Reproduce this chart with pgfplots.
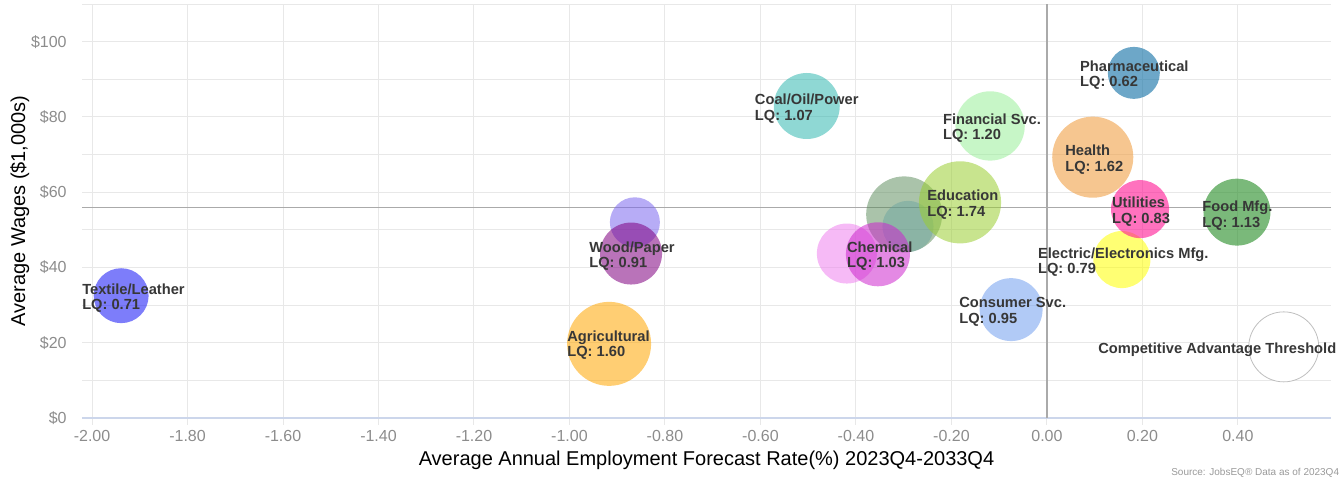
\documentclass[border=0pt]{standalone}
\usepackage{fontspec}
\setmainfont{Liberation Sans}
\usepackage{xcolor}
\usepackage{pgfplots}
\pgfplotsset{compat=1.18}
\definecolor{gridcol}{RGB}{232,232,232}
\definecolor{axiscol}{RGB}{204,214,235}
\definecolor{tickcol}{RGB}{140,140,140}
\definecolor{refcol}{RGB}{170,170,170}
\definecolor{labcol}{RGB}{55,55,55}
\definecolor{cTextile}{RGB}{10,10,245}
\definecolor{cAgri}{RGB}{255,165,0}
\definecolor{cWood}{RGB}{128,0,128}
\definecolor{cViolet}{RGB}{123,104,238}
\definecolor{cCoal}{RGB}{32,178,170}
\definecolor{cPink}{RGB}{238,130,238}
\definecolor{cChem}{RGB}{205,40,205}
\definecolor{cGrey}{RGB}{85,135,85}
\definecolor{cTeal}{RGB}{95,158,160}
\definecolor{cEdu}{RGB}{154,205,50}
\definecolor{cFin}{RGB}{144,238,144}
\definecolor{cCons}{RGB}{100,149,237}
\definecolor{cPharma}{RGB}{30,120,170}
\definecolor{cHealth}{RGB}{240,160,70}
\definecolor{cUtil}{RGB}{255,20,147}
\definecolor{cElec}{RGB}{255,255,0}
\definecolor{cFood}{RGB}{34,139,34}

% one bubble: colour, opacity, radius (pt), x, y
\newcommand{\bubble}[5]{\addplot[only marks, mark=*, mark size=#3pt,
  mark options={draw=#1, draw opacity=0, line width=0pt, fill=#1, fill opacity=#2}] coordinates {(#4,#5)};}
\tikzset{blab/.style={anchor=west, inner sep=0pt, align=left, text=labcol, yshift=-1.8pt,
  font=\bfseries\fontsize{11}{11.6}\selectfont}}

\begin{document}
\begin{tikzpicture}
\path[use as bounding box] (-61.5pt,-43.5pt) rectangle (943.5pt,313.5pt);
\begin{axis}[at={(0,0)}, anchor=south west,
 scale only axis, width=936.75pt, height=310.5pt,
 xmin=-2.021, xmax=0.595, ymin=0, ymax=110,
 axis x line*=bottom, axis y line*=left,
 x axis line style={draw=axiscol, line width=0.9pt, -},
 y axis line style={draw=none},
 xtick={-2,-1.8,-1.6,-1.4,-1.2,-1,-0.8,-0.6,-0.4,-0.2,0,0.2,0.4},
 xticklabels={-2.00,-1.80,-1.60,-1.40,-1.20,-1.00,-0.80,-0.60,-0.40,-0.20,0.00,0.20,0.40},
 ytick={0,20,40,60,80,100},
 yticklabels={\$0,\$20,\$40,\$60,\$80,\$100},
 minor ytick={10,30,50,70,90,110},
 xmajorgrids, ymajorgrids, yminorgrids,
 grid style={draw=gridcol, line width=0.75pt},
 minor grid style={draw=gridcol, line width=0.75pt},
 tick align=outside, major tick length=5pt, minor tick length=0pt,
 xtick style={draw=gridcol, line width=0.75pt},
 ytick style={draw=none},
 tick label style={font=\fontsize{12}{14}\selectfont, text=tickcol},
 xticklabel style={yshift=-1pt},
 yticklabel style={xshift=-3pt},
 /pgf/number format/assume math mode=true,
 xlabel={Average Annual Employment Forecast Rate(\%) 2023Q4-2033Q4},
 ylabel={Average Wages (\$1,000s)},
 xlabel style={at={(axis description cs:0.5,-0.1159)}, anchor=base, font=\fontsize{15}{17}\selectfont},
 ylabel style={at={(axis description cs:-0.0456,0.5)}, anchor=base, font=\fontsize{15}{17}\selectfont},
 clip=false]
% reference lines
\addplot[refcol, line width=1pt] coordinates {(-2.021,56) (0.595,56)};
\addplot[refcol, line width=1pt] coordinates {(0,0) (0,110)};
% bubbles
\bubble{cTextile}{0.53}{20.6}{-1.939}{32.5}
\bubble{cAgri}{0.55}{31.5}{-0.917}{19.7}
\bubble{cViolet}{0.55}{18.75}{-0.863}{52.0}
\bubble{cWood}{0.55}{23.25}{-0.871}{43.7}
\bubble{cCoal}{0.5}{24.75}{-0.503}{82.9}
\bubble{cPink}{0.55}{22.5}{-0.419}{43.7}
\bubble{cGrey}{0.5}{28.5}{-0.299}{54.1}
\bubble{cTeal}{0.4}{19.2}{-0.291}{50.9}
\bubble{cChem}{0.55}{24}{-0.354}{43.5}
\bubble{cEdu}{0.55}{30.8}{-0.182}{57.3}
\bubble{cFin}{0.5}{26}{-0.119}{77.6}
\bubble{cCons}{0.5}{23.6}{-0.075}{28.8}
\bubble{cPharma}{0.65}{19.5}{0.182}{91.7}
\bubble{cHealth}{0.6}{30.4}{0.096}{69.3}
\bubble{cElec}{0.55}{21.4}{0.157}{42.1}
\bubble{cUtil}{0.6}{21.75}{0.195}{55.5}
\bubble{cFood}{0.6}{25.1}{0.398}{54.7}
\addplot[only marks, mark=*, mark size=26.25pt,
  mark options={draw=black!25, fill=white, line width=0.6pt}] coordinates {(0.496,18.9)};
% label anchors
\coordinate (l1) at (axis cs:-2.021,32.5);
\coordinate (l2) at (axis cs:-1.005,20.0);
\coordinate (l3) at (axis cs:-0.959,43.7);
\coordinate (l4) at (axis cs:-0.612,82.9);
\coordinate (l5) at (axis cs:-0.419,43.7);
\coordinate (l6) at (axis cs:-0.251,57.3);
\coordinate (l7) at (axis cs:-0.218,77.6);
\coordinate (l8) at (axis cs:-0.184,28.8);
\coordinate (l9) at (axis cs:0.069,91.7);
\coordinate (l10) at (axis cs:0.038,69.3);
\coordinate (l11) at (axis cs:0.136,55.5);
\coordinate (l12) at (axis cs:-0.019,42.1);
\coordinate (l13) at (axis cs:0.325,54.4);
\coordinate (l14) at (axis cs:0.107,18.9);
\end{axis}
\node[blab] at (l1) {Textile/Leather\\LQ: 0.71};
\node[blab] at (l2) {Agricultural\\LQ: 1.60};
\node[blab] at (l3) {Wood/Paper\\LQ: 0.91};
\node[blab] at (l4) {Coal/Oil/Power\\LQ: 1.07};
\node[blab] at (l5) {Chemical\\LQ: 1.03};
\node[blab] at (l6) {Education\\LQ: 1.74};
\node[blab] at (l7) {Financial Svc.\\LQ: 1.20};
\node[blab] at (l8) {Consumer Svc.\\LQ: 0.95};
\node[blab] at (l9) {Pharmaceutical\\LQ: 0.62};
\node[blab] at (l10) {Health\\LQ: 1.62};
\node[blab] at (l11) {Utilities\\LQ: 0.83};
\node[blab] at (l12) {Electric/Electronics Mfg.\\LQ: 0.79};
\node[blab] at (l13) {Food Mfg.\\LQ: 1.13};
\node[blab] at (l14) {Competitive Advantage Threshold};
\node[anchor=base west, inner sep=0pt, text=black!40, font=\fontsize{7.5}{9}\selectfont] at (816.75pt,-42.75pt) {Source: JobsEQ® Data as of 2023Q4};
\end{tikzpicture}
\end{document}
